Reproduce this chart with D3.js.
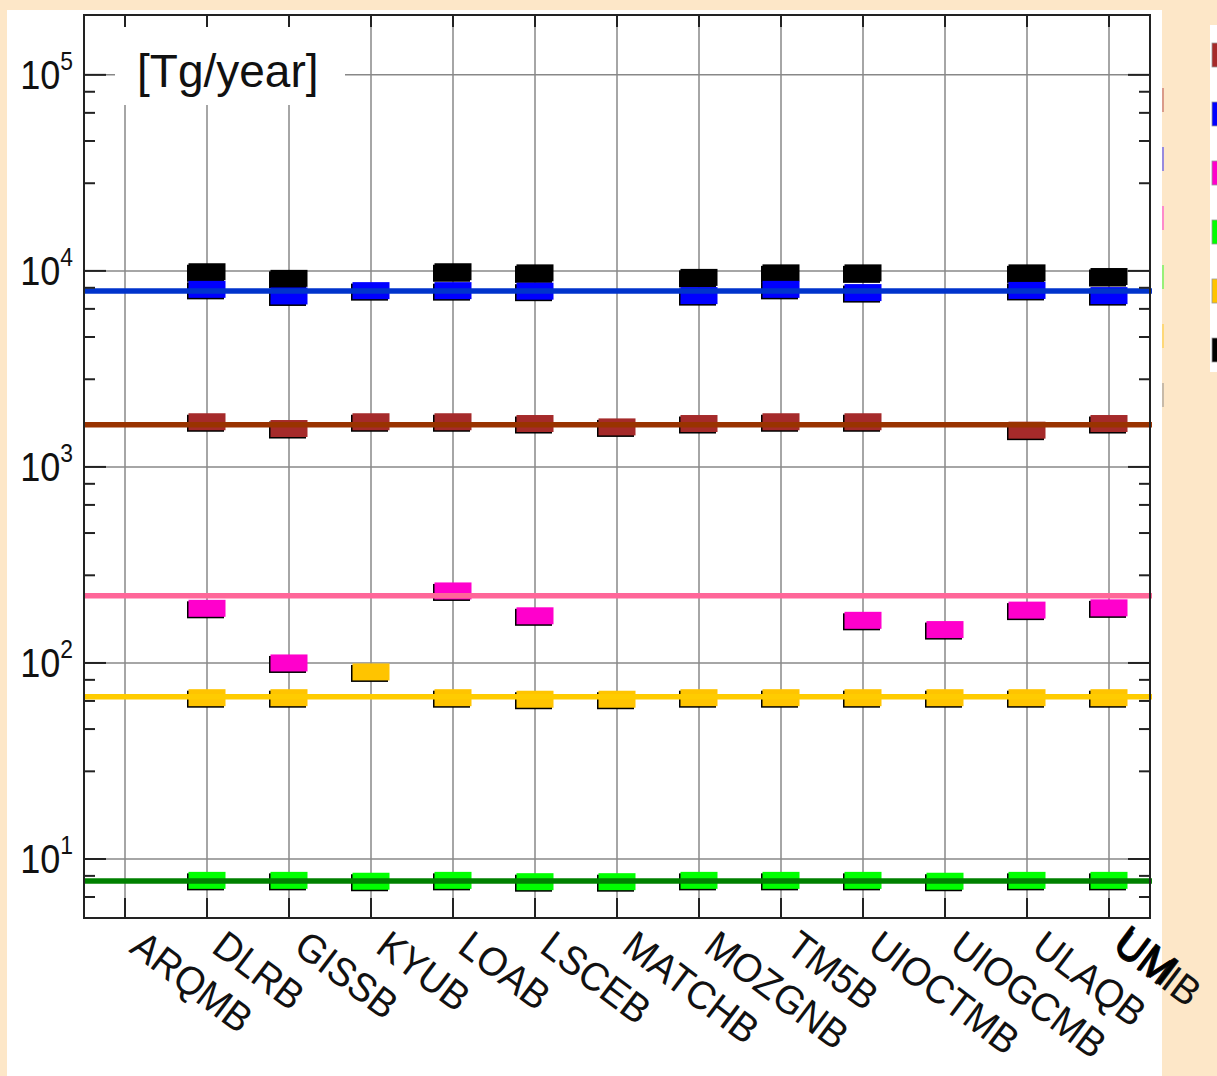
<!DOCTYPE html>
<html>
<head>
<meta charset="utf-8">
<script src="https://cdn.jsdelivr.net/npm/d3@7"></script>
<style>
  html, body { margin: 0; padding: 0; background: #fde7c8; }
  svg { display: block; }
</style>
</head>
<body>
<svg id="chart" width="1217" height="1076"></svg>
<script>
'use strict';

// models on the x axis
const models = ['ARQMB', 'DLRB', 'GISSB', 'KYUB', 'LOAB', 'LSCEB', 'MATCHB',
  'MOZGNB', 'TM5B', 'UIOCTMB', 'UIOGCMB', 'ULAQB', 'UMIB'];

// per model values [Tg/year], null = no marker
const blackVals  = [null, 9900, 9160, null, 9900, 9770, null, 9265, 9770, 9770, null, 9770, 9360];
const blueVals   = [null, 8050, 7450, 7930, 7930, 7880, null, 7480, 8050, 7750, null, 7950, 7480];
const redVals    = [null, 1700, 1570, 1700, 1700, 1665, 1600, 1665, 1700, 1700, null, 1540, 1665];
const pinkVals   = [null, 190, 100, null, 233, 174, null, null, null, 165, 148, 186, 191];
const greenVals  = [null, 7.78, 7.78, 7.7, 7.78, 7.66, 7.66, 7.78, 7.78, 7.78, 7.7, 7.78, 7.78];
const yellowVals = [null, 66.5, 66.5, 90, 66.5, 65.3, 65.3, 66.5, 66.5, 66.5, 66.5, 66.5, 66.5];

// reference (mean) lines
const redMean = 1640;
const blueMean = 7900;
const pinkMean = 220;
const greenMean = 7.72;
const yellowMean = 67.3;

// axis ticks
const decadeTicks = [10, 100, 1000, 10000, 100000];
const minorSteps = [2.8, 4.6, 6.4, 8.2];

const series = [
  {key: 'black',  vals: blackVals,  mean: null,       fill: '#000000', line: null},
  {key: 'red',    vals: redVals,    mean: redMean,    fill: '#a52a2a', line: '#993300'},
  {key: 'blue',   vals: blueVals,   mean: blueMean,   fill: '#0000ff', line: '#0033cc'},
  {key: 'pink',   vals: pinkVals,   mean: pinkMean,   fill: '#ff00cc', line: '#ff6699'},
  {key: 'green',  vals: greenVals,  mean: greenMean,  fill: '#00ff00', line: '#008000'},
  {key: 'yellow', vals: yellowVals, mean: yellowMean, fill: '#ffc400', line: '#ffcc00'}
];
const legendOrder = ['red', 'blue', 'pink', 'green', 'yellow', 'black'];

const font = '"Liberation Sans", Arial, Helvetica, sans-serif';
const pLeft = 84, pRight = 1150, pTop = 15, pBottom = 918;

const svg = d3.select('#chart');

// white panel
svg.append('rect')
  .attr('x', 7).attr('y', 10)
  .attr('width', 1155).attr('height', 1076)
  .attr('fill', '#ffffff');

const x = d3.scalePoint().domain(models).range([pLeft, pRight]).padding(0.5);
const y = d3.scaleLog().domain([5, 2.02e5]).range([pBottom, pTop]);

// grid
const grid = svg.append('g').attr('stroke', '#888').attr('stroke-width', 1.5);
grid.selectAll('.vg').data(models).enter().append('line')
  .attr('x1', d => x(d)).attr('x2', d => x(d))
  .attr('y1', pTop).attr('y2', pBottom);
grid.selectAll('.hg').data(decadeTicks).enter().append('line')
  .attr('x1', pLeft).attr('x2', pRight)
  .attr('y1', d => y(d)).attr('y2', d => y(d));

// markers
const mw = 37, mh = 17;
series.forEach(function(s) {
  let pts = models.map((m, i) => ({m: m, v: s.vals[i]})).filter(d => d.v !== null);
  let g = svg.append('g').attr('class', 'mk-' + s.key);
  g.selectAll('.sh').data(pts).enter().append('rect')
    .attr('x', d => x(d.m) - mw / 2 - 1.5)
    .attr('y', d => y(d.v) - mh / 2 + 1.5)
    .attr('width', mw).attr('height', mh)
    .attr('fill', '#000');
  g.selectAll('.fg').data(pts).enter().append('rect')
    .attr('x', d => x(d.m) - mw / 2)
    .attr('y', d => y(d.v) - mh / 2)
    .attr('width', mw).attr('height', mh)
    .attr('fill', s.fill);
});

// mean lines
series.filter(s => s.mean !== null).forEach(function(s) {
  svg.append('line')
    .attr('x1', pLeft).attr('x2', pRight + 2)
    .attr('y1', y(s.mean)).attr('y2', y(s.mean))
    .attr('stroke', s.line).attr('stroke-width', 5.5);
});

// frame + ticks
const axes = svg.append('g').attr('stroke', '#222').attr('stroke-width', 2);
axes.append('rect')
  .attr('x', pLeft).attr('y', pTop)
  .attr('width', pRight - pLeft).attr('height', pBottom - pTop)
  .attr('fill', 'none');

let minor = [];
decadeTicks.concat([1]).forEach(function(d) {
  minorSteps.forEach(f => minor.push(d * f));
});
minor = minor.filter(v => v > 5 && v < 2.02e5);

[[pLeft, 1], [pRight, -1]].forEach(function(side) {
  axes.selectAll(null).data(decadeTicks).enter().append('line')
    .attr('x1', side[0]).attr('x2', side[0] + side[1] * 22)
    .attr('y1', d => y(d)).attr('y2', d => y(d));
  axes.selectAll(null).data(minor).enter().append('line')
    .attr('x1', side[0]).attr('x2', side[0] + side[1] * 11)
    .attr('y1', d => y(d)).attr('y2', d => y(d));
});
axes.selectAll(null).data(models).enter().append('line')
  .attr('x1', d => x(d)).attr('x2', d => x(d))
  .attr('y1', pTop).attr('y2', pTop + 12);
axes.selectAll(null).data(models).enter().append('line')
  .attr('x1', d => x(d)).attr('x2', d => x(d))
  .attr('y1', pBottom).attr('y2', pBottom - 20);

// y tick labels (10 + superscript exponent)
const yl = svg.selectAll('.ylab').data(decadeTicks).enter().append('text')
  .attr('transform', d => 'translate(73,' + (y(d) + 14) + ') scale(0.88,1)')
  .attr('text-anchor', 'end')
  .attr('style', 'font-family: ' + font + '; fill: #111;');
yl.append('tspan').attr('font-size', '41px').text('10');
yl.append('tspan').attr('font-size', '26px').attr('dy', -19)
  .text(d => Math.round(Math.log10(d)));

// x tick labels
svg.selectAll('.xlab').data(models).enter().append('text')
  .attr('transform', d => 'translate(' + (x(d) + 3) + ',951) rotate(37) scale(0.95,1)')
  .attr('style', 'font-family: ' + font + '; font-size: 40px; fill: #111;')
  .text(d => d);
// the last label is drawn twice in the source, slightly bigger
svg.append('text')
  .attr('transform', 'translate(' + (x('UMIB') + 2) + ',948) rotate(37) scale(0.95,1)')
  .attr('style', 'font-family: ' + font + '; font-size: 44px; fill: #000; stroke: #000; stroke-width: 0.8px;')
  .text('UM');

// unit label
svg.append('rect')
  .attr('x', 115).attr('y', 27)
  .attr('width', 230).attr('height', 78)
  .attr('fill', '#fff');
svg.append('text')
  .attr('x', 137).attr('y', 87)
  .attr('style', 'font-family: ' + font + '; font-size: 46px; fill: #111;')
  .text('[Tg/year]');

// legend, cut off at the right edge
const legendFill = legendOrder.map(k => series.find(s => s.key === k).fill);
svg.append('rect')
  .attr('x', 1210).attr('y', 25)
  .attr('width', 20).attr('height', 347)
  .attr('fill', '#fff');
svg.selectAll('.lg').data(legendFill).enter().append('rect')
  .attr('x', 1212).attr('y', (d, i) => 43 + i * 59)
  .attr('width', 12).attr('height', 24)
  .attr('fill', d => d)
  .attr('stroke', '#999').attr('stroke-width', 0.8);
svg.selectAll('.lg2').data(legendFill).enter().append('rect')
  .attr('x', 1162).attr('y', (d, i) => 88 + i * 59)
  .attr('width', 2).attr('height', 24)
  .attr('fill', d => d === '#000000' ? '#777' : d)
  .attr('opacity', 0.4);
</script>
</body>
</html>
